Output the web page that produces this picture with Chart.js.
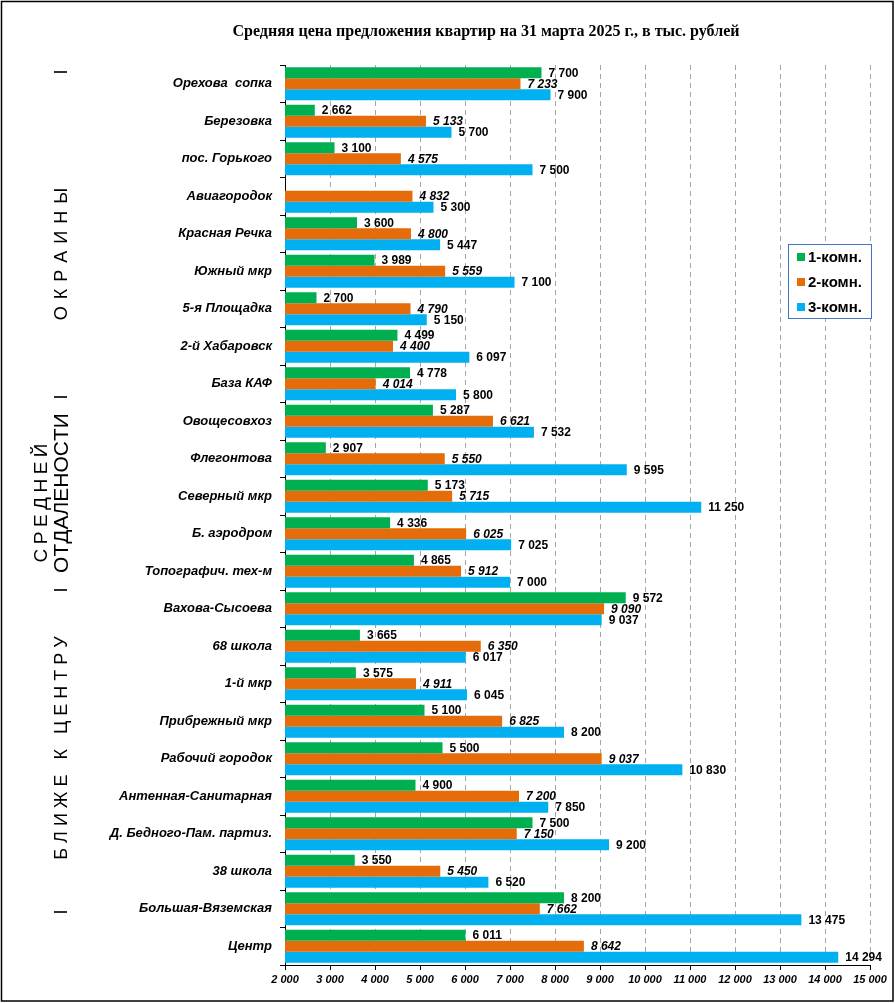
<!DOCTYPE html>
<html>
<head>
<meta charset="utf-8">
<script src="https://cdn.jsdelivr.net/npm/chart.js@4.4.1/dist/chart.umd.min.js"></script>
<style>
  html, body { margin: 0; padding: 0; background: #fff; }
  #wrap { position: relative; width: 895px; height: 1003px; }
</style>
</head>
<body>
<div id="wrap"><canvas id="c"></canvas></div>
<script>
const categories = [
  'Орехова  сопка', 'Березовка', 'пос. Горького', 'Авиагородок', 'Красная Речка',
  'Южный мкр', '5-я Площадка', '2-й Хабаровск', 'База КАФ', 'Овощесовхоз',
  'Флегонтова', 'Северный мкр', 'Б. аэродром', 'Топографич. тех-м', 'Вахова-Сысоева',
  '68 школа', '1-й мкр', 'Прибрежный мкр', 'Рабочий городок', 'Антенная-Санитарная',
  'Д. Бедного-Пам. партиз.', '38 школа', 'Большая-Вяземская', 'Центр'
];
const oneRoom = [7700, 2662, 3100, null, 3600, 3989, 2700, 4499, 4778, 5287,
  2907, 5173, 4336, 4865, 9572, 3665, 3575, 5100, 5500, 4900, 7500, 3550, 8200, 6011];
const twoRoom = [7233, 5133, 4575, 4832, 4800, 5559, 4790, 4400, 4014, 6621,
  5550, 5715, 6025, 5912, 9090, 6350, 4911, 6825, 9037, 7200, 7150, 5450, 7662, 8642];
const threeRoom = [7900, 5700, 7500, 5300, 5447, 7100, 5150, 6097, 5800, 7532,
  9595, 11250, 7025, 7000, 9037, 6017, 6045, 8200, 10830, 7850, 9200, 6520, 13475, 14294];
const seriesNames = ['1-комн.', '2-комн.', '3-комн.'];
const xMin = 2000, xMax = 15000, xStep = 1000;
const titleText = 'Средняя цена предложения квартир на 31 марта 2025 г., в тыс. рублей';

const colors = ['#00B050', '#E46C0A', '#00B0F0'];
const fmt = v => String(v).replace(/\B(?=(\d{3})+(?!\d))/g, ' ');

const labelsPlugin = {
  id: 'valueLabels',
  afterDatasetsDraw(chart) {
    const ctx = chart.ctx;
    ctx.save();
    ctx.textBaseline = 'middle';
    ctx.textAlign = 'left';
    ctx.fillStyle = '#000';
    chart.data.datasets.forEach((ds, i) => {
      const meta = chart.getDatasetMeta(i);
      ctx.font = (i === 1 ? 'italic bold ' : 'bold ') + '12px "Liberation Sans", Arial, sans-serif';
      meta.data.forEach((bar, j) => {
        const v = ds.data[j];
        if (v == null) return;
        ctx.fillText(fmt(v), bar.x + 7, bar.y + 0.5);
      });
    });
    ctx.restore();
  }
};

const decorPlugin = {
  id: 'decor',
  beforeDraw(chart) {
    const ctx = chart.ctx;
    ctx.save();
    ctx.fillStyle = '#fff';
    ctx.fillRect(0, 0, chart.width, chart.height);
    ctx.restore();
  },
  afterDraw(chart) {
    const ctx = chart.ctx;
    ctx.save();
    // title
    ctx.fillStyle = '#000';
    ctx.font = 'bold 16px "Liberation Serif", "Times New Roman", serif';
    ctx.textAlign = 'center';
    ctx.textBaseline = 'middle';
    ctx.fillText(titleText, 486, 32);

    // section labels (rotated, drawn letter by letter with spacing)
    const rotSpaced = (text, x, yCenter, size, gap) => {
      ctx.save();
      ctx.font = size + 'px "Liberation Sans", Arial, sans-serif';
      const chars = Array.from(text);
      const widths = chars.map(ch => ctx.measureText(ch).width);
      const total = widths.reduce((a, b) => a + b, 0) + gap * (chars.length - 1);
      ctx.translate(x, yCenter);
      ctx.rotate(-Math.PI / 2);
      ctx.textAlign = 'left';
      ctx.textBaseline = 'middle';
      let p = -total / 2;
      chars.forEach((ch, k) => {
        ctx.fillText(ch, p, 0);
        p += widths[k] + gap;
      });
      ctx.restore();
    };
    rotSpaced('I', 62, 72, 18, 0);
    rotSpaced('ОКРАИНЫ', 62, 254, 18, 7);
    rotSpaced('I', 62, 397, 18, 0);
    rotSpaced('ОТДАЛЕНОСТИ', 62, 493, 21, 0);
    rotSpaced('I', 62, 590, 18, 0);
    rotSpaced('СРЕДНЕЙ', 42, 503, 19, 4.5);
    rotSpaced('Б Л И Ж Е   К   Ц Е Н Т Р У', 62, 748, 18, 0);
    rotSpaced('I', 62, 912, 18, 0);

    // legend
    const lx = 788, ly = 244, lw = 83, lh = 74;
    ctx.fillStyle = '#fff';
    ctx.fillRect(lx, ly, lw, lh);
    ctx.strokeStyle = '#4472C4';
    ctx.lineWidth = 1;
    ctx.strokeRect(lx + 0.5, ly + 0.5, lw, lh);
    ctx.font = 'bold 15px "Liberation Sans", Arial, sans-serif';
    ctx.textAlign = 'left';
    ctx.textBaseline = 'middle';
    seriesNames.forEach((n, i) => {
      const yy = ly + 13 + i * 25;
      ctx.fillStyle = colors[i];
      ctx.fillRect(lx + 9, yy - 4, 8, 8);
      ctx.fillStyle = '#000';
      ctx.fillText(n, lx + 20, yy + 1);
    });

    // outer frame
    ctx.strokeStyle = '#000';
    ctx.lineWidth = 1.5;
    ctx.strokeRect(1.5, 1.5, chart.width - 3.5, chart.height - 3.5);
    ctx.restore();
  }
};

new Chart(document.getElementById('c'), {
  type: 'bar',
  data: {
    labels: categories,
    datasets: [
      { label: seriesNames[0], data: oneRoom, backgroundColor: colors[0] },
      { label: seriesNames[1], data: twoRoom, backgroundColor: colors[1] },
      { label: seriesNames[2], data: threeRoom, backgroundColor: colors[2] }
    ]
  },
  options: {
    indexAxis: 'y',
    responsive: true,
    maintainAspectRatio: false,
    animation: false,
    layout: { padding: { left: 10, top: 65, right: 25, bottom: 13 } },
    datasets: { bar: { categoryPercentage: 0.88, barPercentage: 1.0, borderWidth: 0 } },
    plugins: {
      legend: { display: false },
      title: { display: false },
      tooltip: { enabled: false }
    },
    scales: {
      x: {
        type: 'linear',
        position: 'bottom',
        min: xMin, max: xMax,
        afterFit(s) { s.height = 25; },
        ticks: {
          stepSize: xStep,
          color: '#000',
          padding: 3,
          maxRotation: 0,
          font: { family: '"Liberation Sans", Arial, sans-serif', size: 11, style: 'italic', weight: 'bold' },
          callback: v => fmt(v)
        },
        grid: { color: '#a6a6a6', lineWidth: 1, drawTicks: true, tickLength: 5, tickColor: '#000' },
        border: { color: '#000', width: 1, dash: [5, 4] }
      },
      y: {
        type: 'category',
        afterFit(s) { s.width = 275; },
        ticks: {
          color: '#000',
          padding: 8,
          autoSkip: false,
          font: { family: '"Liberation Sans", Arial, sans-serif', size: 13, style: 'italic', weight: 'bold' }
        },
        grid: { drawOnChartArea: false, drawTicks: true, tickLength: 5, tickColor: '#000', offset: true },
        border: { color: '#000', width: 1 }
      }
    }
  },
  plugins: [labelsPlugin, decorPlugin]
});
</script>
</body>
</html>
